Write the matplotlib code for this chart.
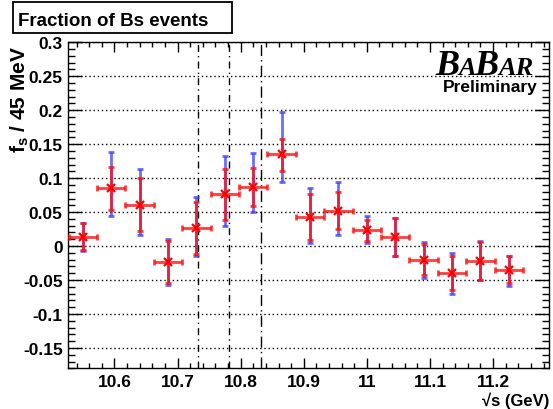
import matplotlib
matplotlib.use('Agg')
import matplotlib.pyplot as plt
from matplotlib.ticker import MultipleLocator, FuncFormatter
from matplotlib.patches import Rectangle
from matplotlib.transforms import IdentityTransform

plt.rcParams['font.family'] = ['Liberation Sans', 'DejaVu Sans']
plt.rcParams['font.weight'] = 'bold'
plt.rcParams['axes.unicode_minus'] = False
plt.rcParams['mathtext.fontset'] = 'custom'
plt.rcParams['mathtext.rm'] = 'Liberation Sans:bold'
plt.rcParams['mathtext.bf'] = 'Liberation Sans:bold'
plt.rcParams['mathtext.it'] = 'Liberation Sans:bold'
plt.rcParams['mathtext.default'] = 'bf'

# data: centre of mass energy bins (GeV) and Bs fraction per 45 MeV
energy = [10.550, 10.595, 10.640, 10.685, 10.730, 10.775, 10.820, 10.865,
          10.910, 10.955, 11.000, 11.045, 11.090, 11.135, 11.180, 11.225]
bin_half_width = 0.0225
fs = [0.014, 0.085, 0.061, -0.024, 0.027, 0.076, 0.087, 0.135,
      0.043, 0.052, 0.023, 0.013, -0.020, -0.039, -0.022, -0.035]
# statistical errors (red)
stat_up = [0.020, 0.032, 0.039, 0.031, 0.038, 0.038, 0.028, 0.022,
           0.033, 0.028, 0.015, 0.028, 0.023, 0.025, 0.028, 0.020]
stat_dn = [0.020, 0.032, 0.039, 0.031, 0.039, 0.038, 0.028, 0.024,
           0.034, 0.027, 0.015, 0.027, 0.023, 0.025, 0.028, 0.019]
# total errors (blue)
tot_up = [0.020, 0.053, 0.052, 0.035, 0.045, 0.056, 0.050, 0.062,
          0.043, 0.042, 0.021, 0.029, 0.026, 0.029, 0.029, 0.021]
tot_dn = [0.021, 0.041, 0.045, 0.034, 0.042, 0.046, 0.037, 0.041,
          0.038, 0.035, 0.018, 0.028, 0.027, 0.031, 0.028, 0.024]
# region boundaries
boundaries = [10.733, 10.781, 10.832]

fig = plt.figure(figsize=(5.53, 4.10), dpi=100)
ax = fig.add_axes([68.3 / 553, 1 - 369.3 / 410, 481 / 553, 326 / 410])

# blue (total) error bars
ax.errorbar(energy, fs, yerr=[tot_dn, tot_up], fmt='none', ecolor='#3c3cff',
            elinewidth=2, capsize=2, capthick=2, alpha=0.75, zorder=3)
# red (stat) error bars + bin width
ax.errorbar(energy, fs, yerr=[stat_dn, stat_up], xerr=bin_half_width, fmt='none',
            ecolor='#ff1010', elinewidth=2, capsize=2, capthick=2, alpha=0.8, zorder=4)
ax.plot(energy, fs, 'x', color='red', ms=6, mew=1.6, zorder=5)

dash_styles = [(0, (5, 3, 1, 3)), (0, (5, 3, 1, 3)), (0, (8, 3, 1, 3))]
for xb, ls in zip(boundaries, dash_styles):
    ax.axvline(xb, color='black', lw=1, linestyle=ls, zorder=2)

ax.set_xlim(10.527, 11.289)
ax.set_ylim(-0.18, 0.3)
ax.xaxis.set_major_locator(MultipleLocator(0.1))
ax.xaxis.set_minor_locator(MultipleLocator(0.02))
ax.yaxis.set_major_locator(MultipleLocator(0.05))
ax.yaxis.set_minor_locator(MultipleLocator(0.01))
fmt = FuncFormatter(lambda v, p: '%g' % round(v, 3))
ax.xaxis.set_major_formatter(fmt)
ax.yaxis.set_major_formatter(fmt)
ax.yaxis.grid(True, which='major', linestyle=(0, (1, 2)), color='black', lw=1)

ax.tick_params(axis='both', which='both', direction='in', top=True, right=True,
               labelsize=12.5, width=1)
ax.tick_params(axis='y', which='major', length=10, pad=4)
ax.tick_params(axis='y', which='minor', length=5)
ax.tick_params(axis='x', which='major', length=7, pad=4)
ax.tick_params(axis='x', which='minor', length=3.6)
for lab in ax.get_xticklabels() + ax.get_yticklabels():
    lab.set_fontweight('bold')
for sp in ax.spines.values():
    sp.set_linewidth(1)

# axis titles
fig.text(20 / 553, 1 - 46 / 410, r'f$_{s}$ / 45 MeV', rotation=90, ha='center',
         va='top', fontsize=15, fontweight='bold')
fig.text(549 / 553, 1 - 406 / 410, '\u221as (GeV)', ha='right', va='baseline',
         fontsize=12, fontweight='bold')

# title box
fig.add_artist(Rectangle((13 / 553, 1 - 34 / 410), 219 / 553, 31 / 410,
                         transform=fig.transFigure, fc='white', ec='black', lw=1.3))
fig.text(18 / 553, 1 - 25.5 / 410, 'Fraction of Bs events', ha='left', va='baseline',
         fontsize=13.5, fontweight='bold')

# BaBar logo
fig.canvas.draw()
renderer = fig.canvas.get_renderer()
x = 435
base = 410 - 75
for piece, size in [('B', 26), ('A', 19), ('B', 26), ('AR', 19)]:
    t = fig.text(x, base, piece, transform=IdentityTransform(), ha='left', va='baseline',
                 fontsize=size, family='Liberation Serif', style='italic', fontweight='bold')
    x += t.get_window_extent(renderer).width - 1
fig.text(538 / 553, 1 - 92 / 410, 'Preliminary', ha='right', va='baseline',
         fontsize=12.5, fontweight='bold')

fig.savefig('out.png', dpi=100)
